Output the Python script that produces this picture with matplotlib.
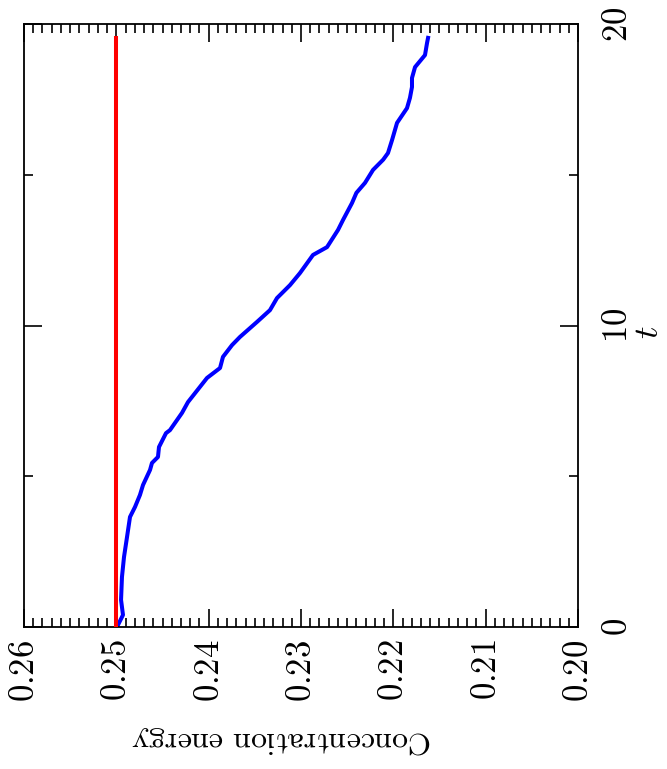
import numpy as np
import matplotlib
matplotlib.use('Agg')
import matplotlib.pyplot as plt
from matplotlib.ticker import MultipleLocator, FixedLocator, FixedFormatter

plt.rcParams['mathtext.fontset'] = 'cm'
plt.rcParams['font.family'] = 'serif'

# time and concentration energy of the evolving field
t = [0.00, 0.40, 0.90, 1.66, 2.32, 2.99, 3.65, 3.98, 4.38, 4.71, 5.21, 5.44,
     5.64, 5.97, 6.43, 6.53, 7.10, 7.46, 8.26, 8.59, 8.96, 9.35, 9.62, 10.12,
     10.51, 10.91, 11.34, 11.74, 12.34, 12.60, 13.17, 13.50, 14.06, 14.40,
     14.73, 15.16, 15.50, 15.72, 16.15, 16.72, 17.21, 17.55, 17.91, 18.21,
     18.57, 18.97, 19.37, 19.54]
energy = [0.24993, 0.24928, 0.24949, 0.24939, 0.24917, 0.24884, 0.24852,
          0.24798, 0.24744, 0.24711, 0.24635, 0.24614, 0.24549, 0.24538,
          0.24462, 0.24419, 0.24289, 0.24224, 0.24018, 0.23877, 0.23845,
          0.23747, 0.23661, 0.23476, 0.23336, 0.23260, 0.23119, 0.23011,
          0.22870, 0.22718, 0.22599, 0.22545, 0.22448, 0.22400, 0.22307,
          0.22220, 0.22110, 0.22058, 0.22014, 0.21960, 0.21852, 0.21820,
          0.21798, 0.21798, 0.21765, 0.21657, 0.21635, 0.21624]

# reference level
t_ref = [0.0, 19.54]
energy_ref = [0.25, 0.25]

e_ticks = [0.26, 0.25, 0.24, 0.23, 0.22, 0.21, 0.20]
e_labels = ['0.26', '0.25', '0.24', '0.23', '0.22', '0.21', '0.20']
t_ticks = [0, 10, 20]
t_labels = ['0', '10', '20']

fig = plt.figure(figsize=(6.67, 7.69), dpi=100)
ax = fig.add_axes([24 / 667, 1 - 627 / 769, 554 / 667, 603 / 769])

ax.plot(energy, t, color='#0000ff', linewidth=2.9, zorder=2)
ax.plot(energy_ref, t_ref, color='#ff0000', linewidth=2.9, zorder=3)

ax.set_xlim(0.26, 0.20)
ax.set_ylim(0, 20)

ax.xaxis.set_major_locator(FixedLocator(e_ticks))
ax.xaxis.set_major_formatter(FixedFormatter(['$%s$' % s for s in e_labels]))
ax.xaxis.set_minor_locator(MultipleLocator(0.001))
ax.yaxis.set_major_locator(FixedLocator(t_ticks))
ax.yaxis.set_major_formatter(FixedFormatter(['$%s$' % s for s in t_labels]))
ax.yaxis.set_minor_locator(FixedLocator([5, 15]))

ax.tick_params(which='both', direction='in', top=True, bottom=True,
               left=True, right=True, width=1.2, color='black')
ax.tick_params(which='major', length=13)
ax.tick_params(which='minor', length=6.5)
ax.tick_params(axis='x', labelsize=25, pad=9, labelrotation=90)
ax.tick_params(axis='y', labelsize=25, pad=16, labelleft=False,
               labelright=True, labelrotation=90)
for lab in ax.get_yticklabels():
    lab.set_verticalalignment('center')

for sp in ax.spines.values():
    sp.set_linewidth(1.3)

fig.text(282 / 667, 1 - 740 / 769, r'$\mathrm{Concentration\ energy}$',
         fontsize=23, rotation=180, ha='center', va='center')
fig.text(648 / 667, 1 - 332 / 769, r'$t$', fontsize=25, rotation=90,
         ha='center', va='center')

fig.savefig('out.png', dpi=100)
